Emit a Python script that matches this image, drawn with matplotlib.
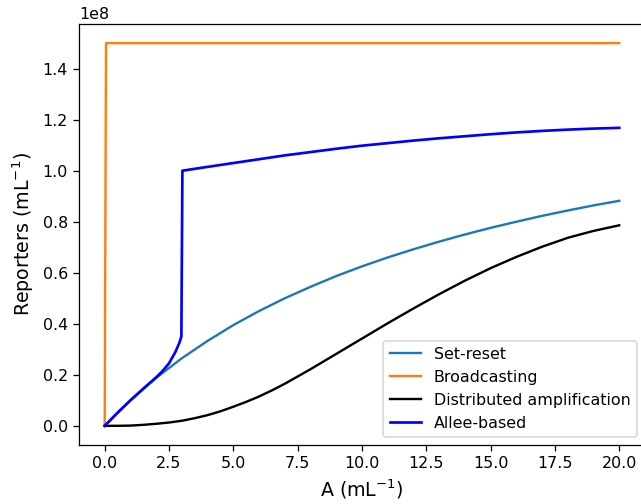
import numpy as np
from matplotlib import pyplot as plt

# values (y in units of 1e8 mL^-1)
a_set = [0, 1, 2, 3, 4, 5, 6, 7, 8, 9, 10, 11, 12, 13, 14, 15, 16, 17, 18, 19, 20]
set_reset = [0, 0.100, 0.188, 0.265, 0.333, 0.395, 0.450, 0.500, 0.545, 0.587, 0.625,
             0.660, 0.692, 0.722, 0.750, 0.776, 0.800, 0.823, 0.844, 0.864, 0.882]

a_broad = [0, 0.05, 20]
broadcasting = [0, 1.5, 1.5]

a_dist = [0, 0.5, 1, 1.5, 2, 2.5, 3, 3.5, 4, 4.5, 5, 5.5, 6, 6.5, 7, 8, 9, 10,
          11, 12, 13, 14, 15, 16, 17, 18, 19, 20]
distributed = [0, 0.0002, 0.001, 0.004, 0.008, 0.013, 0.02, 0.03, 0.042, 0.057, 0.075,
               0.094, 0.115, 0.139, 0.165, 0.222, 0.282, 0.342, 0.402, 0.46, 0.516,
               0.569, 0.618, 0.662, 0.702, 0.737, 0.764, 0.786]

a_allee = [0, 0.5, 1, 1.5, 2, 2.25, 2.5, 2.75, 2.9, 2.98, 3.02, 4, 5, 6, 7, 8, 9, 10,
           11, 12, 13, 14, 15, 16, 17, 18, 19, 20]
allee = [0, 0.052, 0.100, 0.146, 0.190, 0.215, 0.245, 0.290, 0.325, 0.350, 1.0, 1.015,
         1.030, 1.045, 1.060, 1.073, 1.086, 1.098, 1.108, 1.118, 1.127, 1.135, 1.143,
         1.150, 1.156, 1.161, 1.165, 1.168]

fig = plt.figure(figsize=(641 / 114, 504 / 114), dpi=114)
ax = fig.add_axes([0.1232, 0.1171, 0.8830, 0.8353])

ax.plot(a_set, np.array(set_reset) * 1e8, color="tab:blue", lw=1.5, label="Set-reset")
ax.plot(a_broad, np.array(broadcasting) * 1e8, color="tab:orange", lw=1.5, label="Broadcasting")
ax.plot(a_dist, np.array(distributed) * 1e8, color="k", lw=1.5, label="Distributed amplification")
ax.plot(a_allee, np.array(allee) * 1e8, color="b", lw=1.7, label="Allee-based")

ax.set_xlim(-1, 21)
ax.set_ylim(-0.075e8, 1.575e8)
ax.set_xlabel("A (mL$^{-1}$)", fontsize=12)
ax.set_ylabel("Reporters (mL$^{-1}$)", fontsize=12)
ax.legend(loc="lower right")

fig.savefig("out.png", dpi=114)
